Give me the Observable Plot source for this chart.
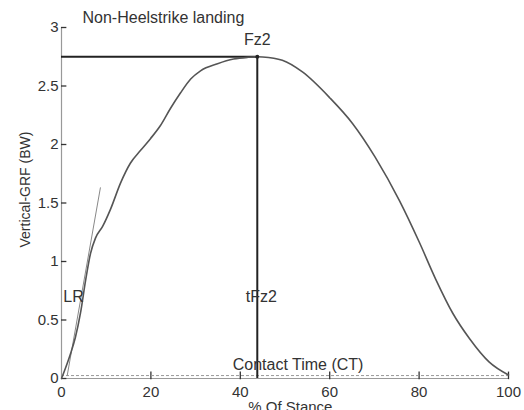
<!DOCTYPE html>
<html><head><meta charset="utf-8">
<script src="https://cdn.jsdelivr.net/npm/d3@7"></script>
<script src="https://cdn.jsdelivr.net/npm/@observablehq/plot@0.6"></script>
<style>body{margin:0;background:#fff;} svg{font-family:"Liberation Sans",Arial,sans-serif;}</style>
</head><body><div id="chart"></div>
<script>
// % of stance (x) and vertical GRF in body weights (y)
const stance = [0, 0.9, 2.0, 3.1, 4.25, 5.4, 6.5, 7.6, 9.2, 11.0, 13.2, 15.4, 17.7, 19.9, 22.1, 24.4, 26.6, 28.9, 31.1, 34.9, 38.5, 41.6, 43.8, 45, 49.4, 53.9, 60, 65.1, 70.2, 75.6, 80.1, 83.7, 87.5, 91.3, 95.7, 100];
const grf    = [0, 0.09, 0.21, 0.35, 0.56, 0.84, 1.07, 1.20, 1.30, 1.45, 1.67, 1.84, 1.95, 2.05, 2.16, 2.31, 2.44, 2.56, 2.63, 2.69, 2.73, 2.745, 2.75, 2.748, 2.72, 2.62, 2.40, 2.18, 1.89, 1.52, 1.16, 0.85, 0.56, 0.34, 0.14, 0.03];
// loading-rate tangent
const tangentX = [1.3, 8.7];
const tangentY = [0.03, 1.63];
// peak Fz2
const peakX = 43.8;
const peakY = 2.75;
// contact time level
const ctStart = 0;
const ctEnd = 100;
const ctLevel = 0.025;
const xTicks = [0, 20, 40, 60, 80, 100];
const yTicks = [0, 0.5, 1, 1.5, 2, 2.5, 3];
const yTickLabels = ["0", "0.5", "1", "1.5", "2", "2.5", "3"];

const curve = stance.map((s, i) => ({x: s, y: grf[i]}));
const tangent = tangentX.map((t, i) => ({x: t, y: tangentY[i]}));

const ink = "#333";
const chart = Plot.plot({
  width: 524,
  height: 410,
  marginLeft: 61,
  marginRight: 16,
  marginTop: 27,
  marginBottom: 32,
  style: {background: "#fff", color: ink, fontSize: "15px"},
  x: {domain: [0, 100], ticks: xTicks, label: null},
  y: {domain: [0, 3], ticks: yTicks, label: null, tickFormat: (d) => yTickLabels[yTicks.indexOf(d)]},
  marks: [
    Plot.axisX({ticks: xTicks, tickSize: 0, tickPadding: 8, fontSize: 15, fill: ink, label: null}),
    Plot.axisY({ticks: yTicks, tickSize: 0, tickPadding: 3, fontSize: 15, fill: ink, label: null, tickFormat: (d) => yTickLabels[yTicks.indexOf(d)]}),
    // axis lines
    Plot.ruleX([0], {y1: 0, y2: 3, stroke: "#999", strokeWidth: 1.2}),
    Plot.ruleY([0], {x1: 0, x2: 100, stroke: "#999", strokeWidth: 1.2}),
    // inward ticks
    Plot.ruleY(yTicks, {x1: 0, x2: 1.2, stroke: ink, strokeWidth: 1.3}),
    Plot.ruleX(xTicks.slice(1), {y1: -0.01, y2: 0.055, stroke: ink, strokeWidth: 1.3}),
    // contact time dashed
    Plot.ruleY([ctLevel], {x1: ctStart, x2: ctEnd, stroke: "#999", strokeDasharray: "3,2", strokeWidth: 1}),
    // peak reference lines
    Plot.ruleY([peakY], {x1: 0, x2: peakX, stroke: "#222", strokeWidth: 2}),
    Plot.ruleX([peakX], {y1: 0, y2: peakY, stroke: "#222", strokeWidth: 2}),
    // tangent
    Plot.line(tangent, {x: "x", y: "y", stroke: "#888", strokeWidth: 1}),
    // GRF curve
    Plot.line(curve, {x: "x", y: "y", curve: "monotone-x", stroke: "#555", strokeWidth: 1.6}),
    Plot.dot([{x: peakX, y: peakY}], {x: "x", y: "y", r: 2, fill: "#222"}),
    // annotations
    Plot.text(["Non-Heelstrike landing"], {x: 4.7, y: 3.04, text: (d) => d, textAnchor: "start", lineAnchor: "bottom", fontSize: 16, fill: ink}),
    Plot.text(["Fz2"], {x: peakX, y: 2.85, text: (d) => d, textAnchor: "middle", lineAnchor: "bottom", fontSize: 16, fill: ink}),
    Plot.text(["LR"], {x: 0.4, y: 0.65, text: (d) => d, textAnchor: "start", lineAnchor: "bottom", fontSize: 16, fill: ink}),
    Plot.text(["tFz2"], {x: 44.7, y: 0.65, text: (d) => d, textAnchor: "middle", lineAnchor: "bottom", fontSize: 16, fill: ink}),
    Plot.text(["Contact Time (CT)"], {x: 38.3, y: 0.07, text: (d) => d, textAnchor: "start", lineAnchor: "bottom", fontSize: 16, fill: ink}),
    // axis titles
    Plot.text(["Vertical-GRF (BW)"], {x: -8, y: 1.615, text: (d) => d, rotate: -90, textAnchor: "middle", lineAnchor: "middle", fontSize: 14, fill: ink}),
    Plot.text(["% Of Stance"], {x: 51.2, y: -0.195, text: (d) => d, textAnchor: "middle", lineAnchor: "top", fontSize: 15, fill: ink})
  ]
});
document.getElementById("chart").appendChild(chart);
</script>
</body></html>
